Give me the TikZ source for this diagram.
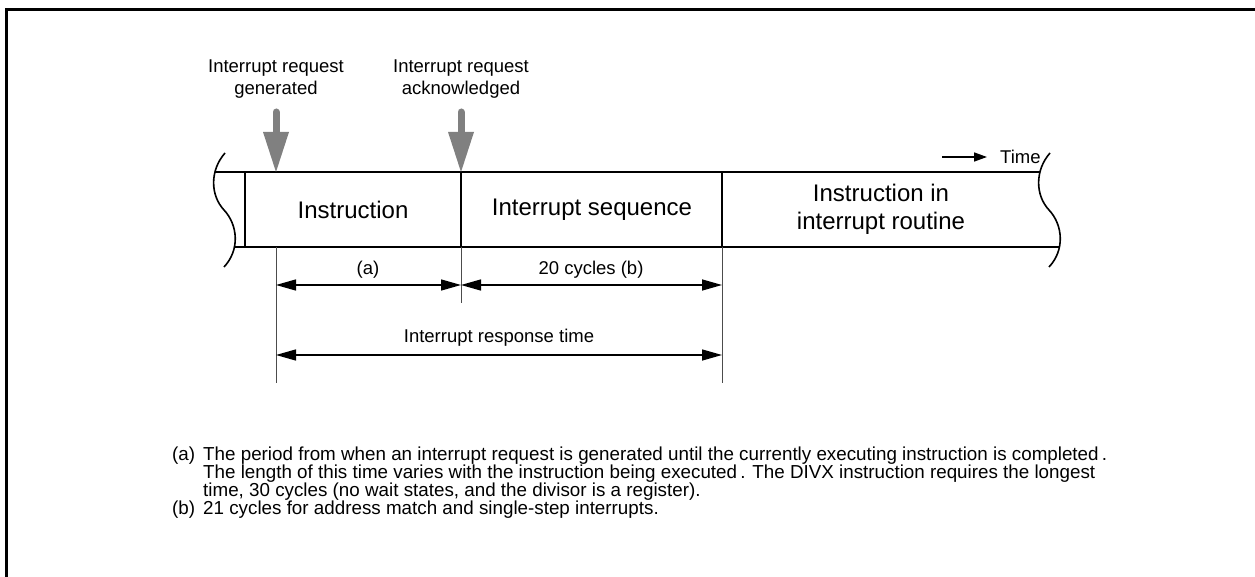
\documentclass[tikz,border=0pt]{standalone}
\usepackage{fontspec}
\setmainfont{Liberation Sans}
\usetikzlibrary{arrows.meta}
\definecolor{arrgray}{RGB}{128,128,128}
\begin{document}
\begin{tikzpicture}[x=1pt,y=-1pt,
  bandline/.style={line width=1.6pt},
  waveline/.style={line width=1.6pt},
  dimline/.style={line width=1pt, black!70},
  dimarrow/.style={line width=1.5pt, {Triangle[length=20pt,width=11pt]}-{Triangle[length=20pt,width=11pt]}},
  lbl/.style={font=\fontsize{18.5}{22}\selectfont, align=center, inner sep=0pt},
  bigtxt/.style={font=\fontsize{24}{28}\selectfont, align=center, inner sep=0pt},
  notetxt/.style={font=\fontsize{18.8}{18}\selectfont, anchor=base west, inner sep=0pt},
  grayarrow/.style={arrgray, line width=7pt, line cap=round},
]
\useasboundingbox (0,0) rectangle (1255,577);
% frame
\draw[line width=3pt, line join=miter] (6.5,577) -- (6.5,9.5) -- (1255,9.5);

% key coordinates
\coordinate (gen) at (276,172);
\coordinate (ack) at (461,172);
\coordinate (endseq) at (722,172);

% band
\draw[bandline] (215,172) -- (1040,172);
\draw[bandline] (234.5,247) -- (1059.5,247);
\draw[bandline] (245,172) -- (245,247);
\draw[bandline] (ack) -- (461,247);
\draw[bandline] (endseq) -- (722,247);

% wavy breaks
\draw[waveline] (225,153) .. controls (210,170) and (210,195) .. (224,210)
  .. controls (238,225) and (240,250) .. (224,267);
\draw[waveline] (1050,153) .. controls (1035,170) and (1035,195) .. (1049,210)
  .. controls (1063,225) and (1065,250) .. (1049,267);

% band texts
\node[bigtxt] (instr) at (353,210) {Instruction};
\node[bigtxt] (seq) at (592,210) {Interrupt sequence};
\node[bigtxt] (routine) at (881,209) {Instruction in\\interrupt routine};

% top labels and gray arrows
\node[lbl] (genlbl) at (276,79) {Interrupt request\\generated};
\node[lbl] (acklbl) at (461,79) {Interrupt request\\acknowledged};
\draw[grayarrow] (276,112) -- (276,134);
\fill[arrgray] (263,132) -- (289,132) -- (gen) -- cycle;
\draw[grayarrow] (461,112) -- (461,134);
\fill[arrgray] (448,132) -- (474,132) -- (ack) -- cycle;

% time arrow
\node[lbl, anchor=west] (time) at (1000,157) {Time};
\coordinate (tstart) at (942,157);
\draw[line width=1.5pt, -{Triangle[length=13pt,width=9pt]}] (tstart) -- ([xshift=-13pt]time.west);

% dimension lines
\coordinate (d1) at (276,247);
\coordinate (d2) at (461,247);
\coordinate (d3) at (722,247);
\coordinate (d1b) at (276,383);
\coordinate (d2b) at (461,303);
\coordinate (d3b) at (722,383);
\draw[dimline] (d1) -- (d1b);
\draw[dimline] (d2) -- (d2b);
\draw[dimline] (d3) -- (d3b);

\coordinate (a1) at (276,285);
\coordinate (a2) at (461,285);
\coordinate (a3) at (722,285);
\coordinate (r1) at (276,355);
\coordinate (r2) at (722,355);
\draw[dimarrow] (a1) -- (a2);
\draw[dimarrow] (a2) -- (a3);
\draw[dimarrow] (r1) -- (r2);
\node[lbl] (alabel) at (368,270) {(a)};
\node[lbl] (blabel) at (591,270) {20 cycles (b)};
\node[lbl] (rlabel) at (499,338) {Interrupt response time};

% notes
\node[notetxt] (na) at (172,460) {(a)};
\node[notetxt] (na1) at (203,460) {The period from when an interrupt request is generated until the currently executing instruction is completed\,.};
\node[notetxt] (na2) at (203,478) {The length of this time varies with the instruction being executed\,. The DIVX instruction requires the longest};
\node[notetxt] (na3) at (203,496) {time, 30 cycles (no wait states, and the divisor is a register).};
\node[notetxt] (nb) at (172,514) {(b)};
\node[notetxt] (nb1) at (203,514) {21 cycles for address match and single-step interrupts.};
\end{tikzpicture}
\end{document}
